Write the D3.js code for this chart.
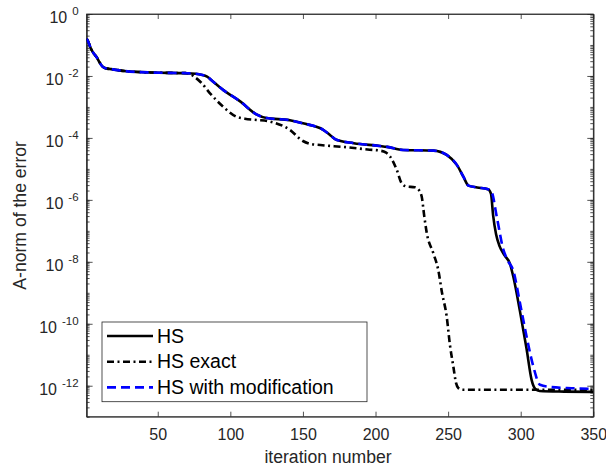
<!DOCTYPE html>
<html>
<head>
<meta charset="utf-8">
<script src="https://cdn.jsdelivr.net/npm/d3@7"></script>
<style>
  html, body { margin: 0; padding: 0; background: #fff; }
  svg { display: block; font-family: "Liberation Sans", Arial, sans-serif; }
</style>
</head>
<body>
<svg id="chart" width="606" height="470"></svg>
<script>
// ---- data (iteration number, log10 of A-norm of the error) ----
const hsIter = [1, 2, 4, 6, 8, 10, 12, 14, 18, 27, 46, 69, 76, 80, 84, 88, 95, 107, 118, 125, 141, 150, 164, 169, 173, 185, 203, 208, 219, 240, 249, 256, 260.5, 264, 270, 277.5, 279.5, 281, 283, 285.5, 289, 292.5, 295, 299.5, 304, 307.5, 310, 313, 330, 350];
const hsLog  = [-0.80, -0.88, -1.12, -1.28, -1.40, -1.57, -1.70, -1.75, -1.78, -1.84, -1.89, -1.91, -1.93, -1.96, -2.02, -2.18, -2.45, -2.83, -3.24, -3.36, -3.43, -3.53, -3.74, -3.92, -4.06, -4.17, -4.26, -4.29, -4.39, -4.41, -4.55, -4.87, -5.25, -5.54, -5.60, -5.66, -5.80, -6.50, -7.10, -7.50, -7.80, -8.05, -8.50, -9.60, -10.80, -11.81, -12.10, -12.17, -12.19, -12.20];

const exIter = [1, 2, 4, 6, 8, 10, 12, 14, 18, 27, 46, 69, 72, 75, 80, 86, 95, 104, 110, 118, 127, 141, 150, 156, 162, 180, 196, 203, 207, 210, 214.6, 218, 221.5, 227, 229.3, 231.8, 233.5, 235.3, 239.8, 243.2, 245.8, 249, 251.3, 253.6, 255.4, 257, 260, 300, 350];
const exLog  = [-0.80, -0.88, -1.12, -1.28, -1.40, -1.57, -1.70, -1.75, -1.78, -1.84, -1.89, -1.91, -1.93, -2.02, -2.22, -2.56, -2.99, -3.31, -3.38, -3.42, -3.47, -3.74, -4.10, -4.20, -4.23, -4.30, -4.38, -4.41, -4.47, -4.60, -5.03, -5.46, -5.57, -5.59, -5.65, -5.89, -6.50, -7.07, -7.72, -8.26, -9.00, -9.76, -10.70, -11.38, -11.90, -12.07, -12.13, -12.13, -12.13];

const modIter = [1, 2, 4, 6, 8, 10, 12, 14, 18, 27, 46, 69, 76, 80, 84, 88, 95, 107, 118, 125, 141, 150, 164, 169, 173, 185, 203, 208, 219, 240, 249, 256, 260.5, 264, 270, 277.5, 280, 283.5, 288, 291, 295, 299.5, 304, 308.7, 313.3, 320, 335, 350];
const modLog  = [-0.80, -0.88, -1.12, -1.28, -1.40, -1.57, -1.70, -1.75, -1.78, -1.84, -1.89, -1.91, -1.93, -1.96, -2.02, -2.18, -2.45, -2.83, -3.24, -3.36, -3.43, -3.53, -3.74, -3.92, -4.06, -4.17, -4.26, -4.29, -4.39, -4.41, -4.55, -4.87, -5.25, -5.54, -5.60, -5.66, -5.75, -6.54, -7.60, -7.95, -8.30, -9.33, -10.40, -11.38, -11.97, -12.04, -12.08, -12.10];

const xTicks = [50, 100, 150, 200, 250, 300, 350];
const yTickExps = [0, -2, -4, -6, -8, -10, -12];
const seriesNames = ["HS", "HS exact", "HS with modification"];

// ---- layout ----
const W = 606, H = 470;
const plot = { left: 86.6, right: 593.3, top: 14, bottom: 416.7 };
const ink = "#262626";

const svg = d3.select("#chart");
const x = d3.scaleLinear().domain([1, 350]).range([plot.left, plot.right]);
const y = d3.scaleLog().domain([1e-13, 1]).range([plot.bottom, plot.top]);

const toPts = (it, lg) => it.map((d, i) => ({ x: d, v: Math.pow(10, lg[i]) }));
const series = [
  { name: seriesNames[0], pts: toPts(hsIter, hsLog),  color: "#000000", dash: null,        width: 2.6 },
  { name: seriesNames[1], pts: toPts(exIter, exLog),  color: "#000000", dash: "7,3.5,2,3.5", width: 2.6 },
  { name: seriesNames[2], pts: toPts(modIter, modLog), color: "#0000ff", dash: "9,5",       width: 2.6 }
];

// ---- axes ----
const minorVals = [];
for (let e = -13; e < 0; e++) for (let k = 1; k <= 9; k++) minorVals.push(k * Math.pow(10, e));
minorVals.push(1);

function styleAxis(g) {
  g.select(".domain").attr("stroke", ink).attr("stroke-width", 0.8);
  g.selectAll(".tick line").attr("stroke", ink).attr("stroke-width", 0.8);
  g.selectAll(".tick text").attr("fill", ink);
}

// minor y ticks left/right
svg.append("g").attr("transform", `translate(${plot.left},0)`)
  .call(d3.axisLeft(y).tickValues(minorVals).tickFormat("").tickSizeInner(-3).tickSizeOuter(0))
  .call(styleAxis);
svg.append("g").attr("transform", `translate(${plot.right},0)`)
  .call(d3.axisRight(y).tickValues(minorVals).tickFormat("").tickSizeInner(-3).tickSizeOuter(0))
  .call(styleAxis);

// major y ticks
const yMajor = yTickExps.map(e => Math.pow(10, e));
const yLeft = svg.append("g").attr("transform", `translate(${plot.left},0)`)
  .call(d3.axisLeft(y).tickValues(yMajor).tickSizeInner(-6).tickSizeOuter(0).tickPadding(8))
  .call(styleAxis);
yLeft.selectAll(".tick text").each(function(d) {
  const t = d3.select(this);
  const e = Math.round(Math.log10(d));
  t.text(null).attr("x", -8).attr("dy", null).attr("y", 8.5)
    .attr("font-size", 16).attr("text-anchor", "end");
  t.append("tspan").text("10");
  t.append("tspan").attr("dx", 5).attr("dy", -8).attr("font-size", 11.5).text(String(e));
});
svg.append("g").attr("transform", `translate(${plot.right},0)`)
  .call(d3.axisRight(y).tickValues(yMajor).tickFormat("").tickSizeInner(-6).tickSizeOuter(0))
  .call(styleAxis);

// x axes
const xBottom = svg.append("g").attr("transform", `translate(0,${plot.bottom})`)
  .call(d3.axisBottom(x).tickValues(xTicks).tickSizeInner(-5).tickSizeOuter(0).tickPadding(12))
  .call(styleAxis);
xBottom.selectAll(".tick text").attr("font-size", 16).attr("dy", null).attr("y", 23.3);
svg.append("g").attr("transform", `translate(0,${plot.top})`)
  .call(d3.axisTop(x).tickValues(xTicks).tickFormat("").tickSizeInner(-5).tickSizeOuter(0))
  .call(styleAxis);

// box edges
svg.append("rect").attr("x", plot.left).attr("y", plot.top)
  .attr("width", plot.right - plot.left).attr("height", plot.bottom - plot.top)
  .attr("fill", "none").attr("stroke", ink).attr("stroke-width", 0.8);

// axis labels
svg.append("text").attr("x", 328).attr("y", 463).attr("text-anchor", "middle")
  .attr("font-size", 17.6).attr("fill", ink).text("iteration number");
svg.append("text").attr("transform", `translate(26,${(plot.top + plot.bottom) / 2}) rotate(-90)`)
  .attr("text-anchor", "middle").attr("font-size", 17.6).attr("fill", ink).text("A-norm of the error");

// ---- lines ----
svg.append("clipPath").attr("id", "clip").append("rect")
  .attr("x", plot.left).attr("y", plot.top)
  .attr("width", plot.right - plot.left).attr("height", plot.bottom - plot.top);

const line = d3.line().x(d => x(d.x)).y(d => y(d.v)).curve(d3.curveMonotoneX);
const lg = svg.append("g").attr("clip-path", "url(#clip)");
series.forEach(s => {
  lg.append("path").datum(s.pts).attr("d", line)
    .attr("fill", "none").attr("stroke", s.color).attr("stroke-width", s.width)
    .attr("stroke-dasharray", s.dash).attr("stroke-linejoin", "round");
});

// ---- legend ----
const leg = svg.append("g");
leg.append("rect").attr("x", 102).attr("y", 322).attr("width", 265).attr("height", 79.7)
  .attr("fill", "#fff").attr("stroke", ink).attr("stroke-width", 0.8);
series.forEach((s, i) => {
  const ly = 336 + i * 25.7;
  leg.append("line").attr("x1", 107).attr("x2", 153).attr("y1", ly).attr("y2", ly)
    .attr("stroke", s.color).attr("stroke-width", s.width).attr("stroke-dasharray", s.dash);
  leg.append("text").attr("x", 157).attr("y", ly + 6.7).attr("font-size", 19.5)
    .attr("fill", "#000").text(s.name);
});
</script>
</body>
</html>
